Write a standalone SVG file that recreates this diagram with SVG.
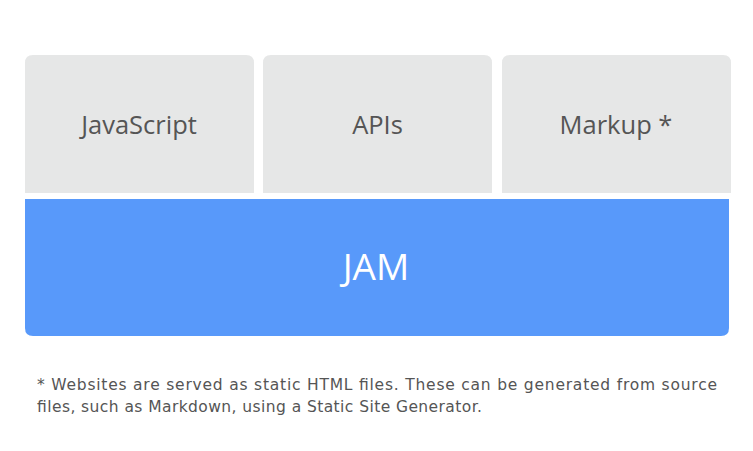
<svg xmlns="http://www.w3.org/2000/svg" width="753" height="451" viewBox="0 0 753 451">
<style>
.box{fill:#e6e7e7}
.lbl{font-family:"Open Sans",sans-serif;font-size:25.5px;fill:#555;text-anchor:middle}
.jam{font-family:"Open Sans",sans-serif;font-size:37px;fill:#fff;text-anchor:middle}
.note{font-family:"DejaVu Sans",Verdana,sans-serif;font-size:15.5px;fill:#555}
</style>
<rect width="753" height="451" fill="#fff"/>
<g id="javascript">
<path class="box" d="M25,193 V63 Q25,55 33,55 H246 Q254,55 254,63 V193 Z"/>
<text class="lbl" x="139" y="134">JavaScript</text>
</g>
<g id="apis">
<path class="box" d="M263,193 V63 Q263,55 271,55 H484 Q492,55 492,63 V193 Z"/>
<text class="lbl" x="377.5" y="134">APIs</text>
</g>
<g id="markup">
<path class="box" d="M502,193 V63 Q502,55 510,55 H723 Q731,55 731,63 V193 Z"/>
<text class="lbl" x="616" y="134">Markup *</text>
</g>
<g id="jam">
<path fill="#5899fa" d="M25,199 H729 V328 Q729,336 721,336 H33 Q25,336 25,328 Z"/>
<text class="jam" x="376" y="280">JAM</text>
</g>
<g id="connectors"/>
<g id="footnote">
<text class="note" x="37" y="390" textLength="680" lengthAdjust="spacing">* Websites are served as static HTML files. These can be generated from source</text>
<text class="note" x="37" y="412" textLength="445" lengthAdjust="spacing">files, such as Markdown, using a Static Site Generator.</text>
</g>
</svg>
